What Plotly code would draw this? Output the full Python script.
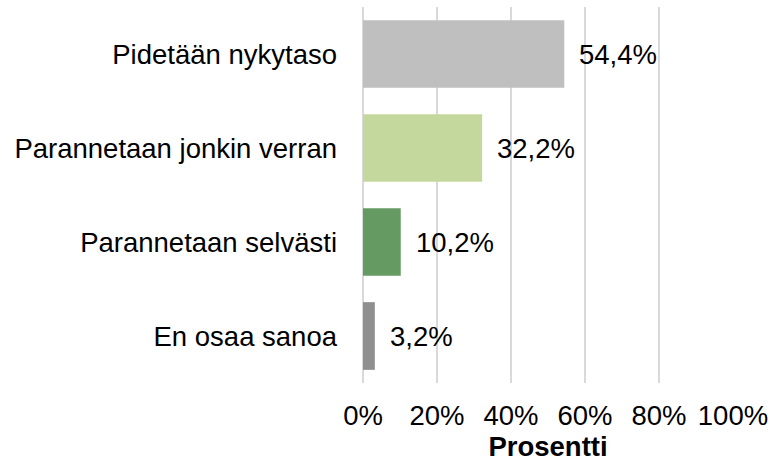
import plotly.graph_objects as go

categories = ["Pidetään nykytaso", "Parannetaan jonkin verran", "Parannetaan selvästi", "En osaa sanoa"]
values = [54.4, 32.2, 10.2, 3.2]
value_labels = ["54,4%", "32,2%", "10,2%", "3,2%"]
bar_colors = ["#BFBFBF", "#C4D79D", "#659B63", "#8F8F8F"]
tick_values = [0, 20, 40, 60, 80, 100]
tick_labels = ["0%", "20%", "40%", "60%", "80%", "100%"]

FONT = "Liberation Sans, Arial, sans-serif"
FS = 27.5

fig = go.Figure(go.Bar(
    x=values,
    y=categories,
    orientation="h",
    marker=dict(color=bar_colors, line=dict(width=0)),
    width=0.72,
    hoverinfo="skip",
))

# value labels just right of each bar
for v, cat, lab in zip(values, categories, value_labels):
    fig.add_annotation(
        x=v, y=cat, text=lab, showarrow=False,
        xanchor="left", yanchor="middle", xshift=13,
        font=dict(family=FONT, size=FS, color="#000000"),
    )

fig.update_layout(
    width=771,
    height=467,
    margin=dict(l=363, r=38, t=7, b=84, autoexpand=False),
    plot_bgcolor="white",
    paper_bgcolor="white",
    showlegend=False,
    font=dict(family=FONT, size=FS, color="#000000"),
)

fig.update_xaxes(
    range=[0, 100],
    tickvals=tick_values,
    ticktext=tick_labels,
    showgrid=True,
    gridcolor="#D9D9D9",
    gridwidth=2,
    zeroline=True,
    zerolinecolor="#D9D9D9",
    zerolinewidth=2,
    showline=False,
    ticks="",
    automargin=False,
    ticklabelstandoff=13,
    title=dict(text="<b>Prosentti</b>", standoff=7, font=dict(family=FONT, size=FS)),
)

fig.update_yaxes(
    autorange="reversed",
    showgrid=False,
    zeroline=False,
    showline=False,
    ticks="",
    automargin=False,
    ticklabelstandoff=25,
)

# drop the default 8px body margin so the figure sits at the window's corner
fig.write_html(
    "out.html",
    config={"displayModeBar": False},
    post_script="document.body.style.margin='0px';",
)
